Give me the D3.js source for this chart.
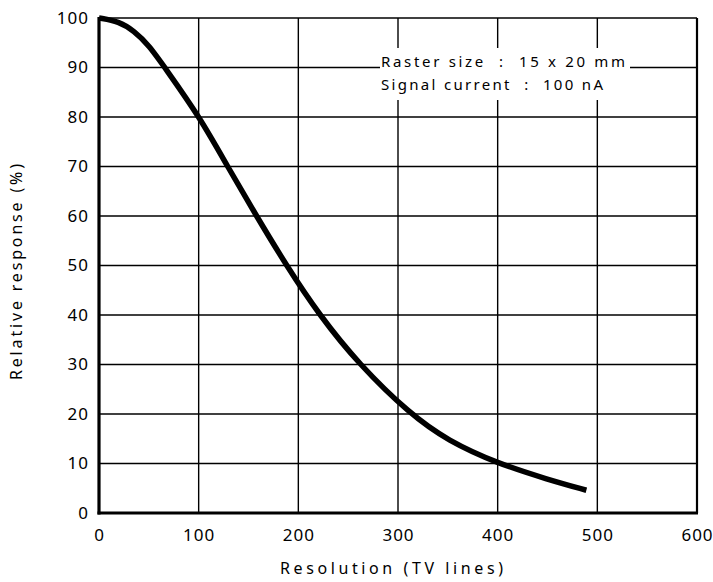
<!DOCTYPE html>
<html>
<head>
  <meta charset="utf-8"/>
  <title>Relative response</title>
  <style>
    body { margin: 0; background: #fff; }
    text { font-family: "Noto Sans", "DejaVu Sans", sans-serif; fill: #000; }
  </style>
</head>
<body>
<div id="graph"></div>
<script src="https://cdn.jsdelivr.net/npm/d3@7"></script>
<script>
    // curve: resolution (TV lines) vs relative response (%)
    var resolution = [0, 20, 35, 50, 66, 101, 129, 158, 188, 221, 261, 312, 350, 400, 450, 489];
    var response   = [100, 99.3, 97.4, 94.5, 90, 80, 70, 60, 50, 40, 30, 20, 14.6, 10, 6.8, 4.6];
    var xTicks = [0, 100, 200, 300, 400, 500, 600];
    var yTicks = [0, 10, 20, 30, 40, 50, 60, 70, 80, 90, 100];
    var notes = ["Raster size  :  15 x 20 mm", "Signal current  :  100 nA"];

    var width = 713, height = 582;
    var margin = {top: 18, right: 16, bottom: 69, left: 99};
    var w = width - margin.left - margin.right,
        h = height - margin.top - margin.bottom;

    var x = d3.scaleLinear().domain([0, 600]).range([0, w]);
    var y = d3.scaleLinear().domain([0, 100]).range([h, 0]);

    var svg = d3.select("#graph").append("svg")
        .attr("width", width)
        .attr("height", height);
    var g = svg.append("g")
        .attr("transform", "translate(" + margin.left + "," + margin.top + ")");

    // grid
    g.selectAll(".vgrid").data(xTicks.slice(1, -1)).enter().append("line")
        .attr("x1", function(d) { return x(d); }).attr("x2", function(d) { return x(d); })
        .attr("y1", 0).attr("y2", h)
        .attr("stroke", "#000").attr("stroke-width", 1.4);
    g.selectAll(".hgrid").data(yTicks.slice(1, -1)).enter().append("line")
        .attr("x1", 0).attr("x2", w)
        .attr("y1", function(d) { return y(d); }).attr("y2", function(d) { return y(d); })
        .attr("stroke", "#000").attr("stroke-width", 1.4);

    // white patch behind the note
    g.append("rect")
        .attr("x", 281).attr("y", 30)
        .attr("width", 250).attr("height", 52)
        .attr("fill", "#fff");

    // frame
    g.append("line").attr("x1", 0).attr("x2", w).attr("y1", 0).attr("y2", 0)
        .attr("stroke", "#000").attr("stroke-width", 1.6);
    g.append("line").attr("x1", w).attr("x2", w).attr("y1", 0).attr("y2", h)
        .attr("stroke", "#000").attr("stroke-width", 2.2);
    g.append("line").attr("x1", 0).attr("x2", 0).attr("y1", -1).attr("y2", h + 1.5)
        .attr("stroke", "#000").attr("stroke-width", 3.2);
    g.append("line").attr("x1", -1.5).attr("x2", w + 1).attr("y1", h).attr("y2", h)
        .attr("stroke", "#000").attr("stroke-width", 3.2);

    // axes (labels only)
    var xAxis = g.append("g")
        .attr("transform", "translate(0," + h + ")")
        .call(d3.axisBottom(x).tickValues(xTicks).tickSize(0).tickPadding(16));
    var yAxis = g.append("g")
        .call(d3.axisLeft(y).tickValues(yTicks).tickSize(0).tickPadding(10));
    [xAxis, yAxis].forEach(function(a) {
      a.select(".domain").remove();
      a.selectAll("text")
        .attr("fill", "#000")
        .style("font-family", "\"Noto Sans\", sans-serif")
        .style("font-size", "17px")
        .style("letter-spacing", "1px");
    });

    // curve
    var pts = resolution.map(function(d, i) { return [d, response[i]]; });
    var line = d3.line()
        .x(function(d) { return x(d[0]); })
        .y(function(d) { return y(d[1]); })
        .curve(d3.curveBasis);
    g.append("path")
        .datum(pts)
        .attr("d", line)
        .attr("fill", "none")
        .attr("stroke", "#000")
        .attr("stroke-width", 5.5)
        .attr("stroke-linecap", "butt");

    // note
    g.selectAll(".note").data(notes).enter().append("text")
        .attr("x", 282)
        .attr("y", function(d, i) { return 49 + i * 23; })
        .attr("textLength", function(d, i) { return i == 0 ? 244 : 222; })
        .attr("lengthAdjust", "spacing")
        .style("font-size", "15px")
        .style("white-space", "pre")
        .text(function(d) { return d; });

    // axis titles
    svg.append("text")
        .attr("x", 280).attr("y", 574)
        .attr("textLength", 223).attr("lengthAdjust", "spacing")
        .style("font-size", "16px")
        .text("Resolution (TV lines)");
    svg.append("text")
        .attr("transform", "translate(22,380) rotate(-90)")
        .attr("textLength", 216).attr("lengthAdjust", "spacing")
        .style("font-size", "16px")
        .text("Relative response (%)");
</script>
</body>
</html>
